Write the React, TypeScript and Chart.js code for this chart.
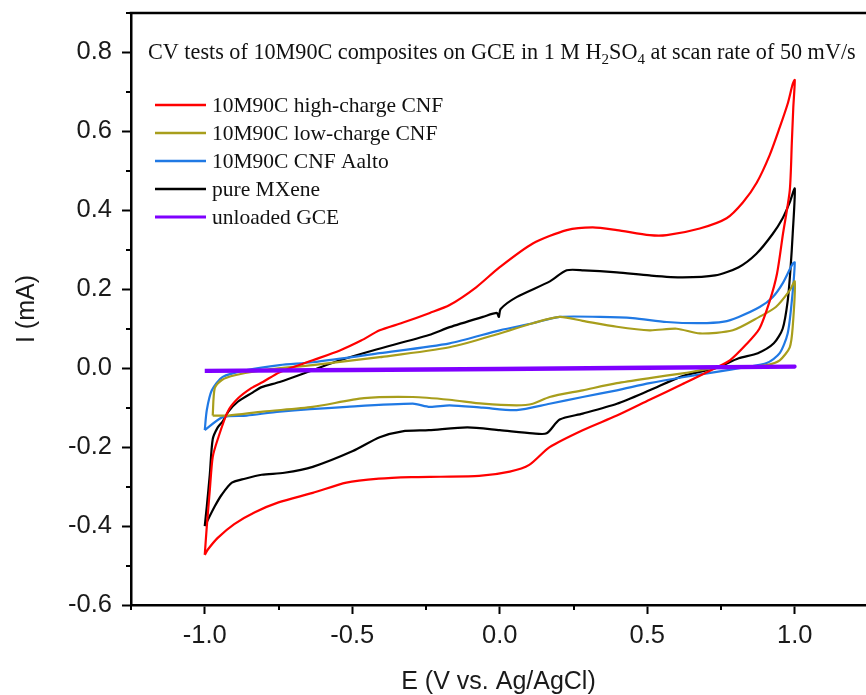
import { useEffect, useRef } from 'react';
import { Chart, registerables } from 'chart.js';

Chart.register(...registerables);

// Cyclic voltammograms: potential E (V vs. Ag/AgCl) and current I (mA),
// anodic sweep from -1.0 V to 1.0 V followed by the cathodic return sweep.
const highChargeE = [
  -1.0, -0.993, -0.983, -0.973, -0.956, -0.922, -0.888, -0.841, -0.803, -0.746, -0.634, -0.542,
  -0.47, -0.407, -0.33, -0.237, -0.17, -0.08, 0.0, 0.112, 0.227, 0.315, 0.397, 0.508, 0.566,
  0.678, 0.769, 0.824, 0.871, 0.915, 0.949, 0.976, 0.993, 1.0,
  0.995, 0.99, 0.983, 0.96, 0.94, 0.915, 0.88, 0.835, 0.78, 0.73, 0.62, 0.508, 0.397, 0.281,
  0.169, 0.1, 0.034, -0.07, -0.2, -0.3, -0.41, -0.52, -0.634, -0.75, -0.83, -0.9,
  -0.956, -0.99, -1.0,
];
const highChargeI = [
  -0.473, -0.4, -0.31, -0.225, -0.18, -0.11, -0.077, -0.05, -0.035, -0.01, 0.02, 0.045,
  0.07, 0.096, 0.115, 0.14, 0.16, 0.205, 0.256, 0.316, 0.35, 0.357, 0.35, 0.337, 0.337,
  0.354, 0.38, 0.42, 0.47, 0.54, 0.61, 0.67, 0.72, 0.73,
  0.66, 0.57, 0.45, 0.34, 0.24, 0.17, 0.1, 0.06, 0.02, 0.0, -0.04, -0.08, -0.12, -0.157,
  -0.2, -0.245, -0.262, -0.273, -0.275, -0.276, -0.28, -0.29, -0.316, -0.34, -0.365, -0.395,
  -0.43, -0.46, -0.473,
];

const lowChargeE = [
  -0.973, -0.966, -0.942, -0.898, -0.803, -0.634, -0.407, -0.17, 0.0, 0.112, 0.203, 0.281,
  0.397, 0.508, 0.6, 0.678, 0.79, 0.88, 0.936, 0.983, 1.0,
  0.993, 0.983, 0.949, 0.905, 0.83, 0.73, 0.62, 0.508, 0.397, 0.281, 0.169, 0.112, 0.057,
  -0.057, -0.17, -0.295, -0.46, -0.634, -0.803, -0.92, -0.973,
];
const lowChargeI = [
  -0.12, -0.05, -0.03, -0.018, -0.005, 0.008, 0.028, 0.053, 0.088, 0.114, 0.13, 0.12,
  0.105, 0.096, 0.1, 0.088, 0.096, 0.13, 0.155, 0.197, 0.22,
  0.104, 0.053, 0.02, 0.008, 0.003, 0.0, -0.013, -0.025, -0.038, -0.056, -0.073, -0.09, -0.094,
  -0.09, -0.08, -0.073, -0.076, -0.098, -0.11, -0.12, -0.12,
];

const aaltoE = [
  -1.0, -0.993, -0.976, -0.939, -0.858, -0.746, -0.634, -0.407, -0.17, 0.0, 0.112, 0.203,
  0.339, 0.451, 0.566, 0.678, 0.76, 0.81, 0.881, 0.925, 0.959, 0.993, 1.0,
  0.99, 0.976, 0.949, 0.905, 0.836, 0.73, 0.62, 0.508, 0.397, 0.281, 0.169, 0.057, -0.057,
  -0.17, -0.237, -0.295, -0.519, -0.746, -0.858, -0.939, -1.0,
];
const aaltoI = [
  -0.157, -0.106, -0.056, -0.022, -0.005, 0.008, 0.015, 0.038, 0.063, 0.096, 0.114, 0.13,
  0.13, 0.127, 0.117, 0.114, 0.118, 0.13, 0.155, 0.18, 0.215, 0.265, 0.268,
  0.17, 0.088, 0.038, 0.013, 0.003, -0.01, -0.023, -0.038, -0.056, -0.073, -0.09, -0.106, -0.1,
  -0.094, -0.098, -0.09, -0.098, -0.11, -0.12, -0.124, -0.157,
];

const mxeneE = [
  -1.0, -0.993, -0.983, -0.973, -0.956, -0.939, -0.92, -0.888, -0.841, -0.807, -0.746, -0.634,
  -0.542, -0.43, -0.24, -0.17, -0.057, -0.01, -0.003, 0.003, 0.057, 0.17, 0.227, 0.285, 0.397,
  0.508, 0.62, 0.73, 0.81, 0.87, 0.925, 0.959, 0.983, 1.0,
  0.993, 0.986, 0.976, 0.959, 0.929, 0.875, 0.81, 0.73, 0.62, 0.508, 0.397, 0.281, 0.203,
  0.159, 0.112, 0.0, -0.11, -0.24, -0.33, -0.407, -0.498, -0.634, -0.73, -0.807, -0.864,
  -0.908, -0.942, -0.966, -1.0,
];
const mxeneI = [
  -0.4, -0.35, -0.27, -0.18, -0.15, -0.135, -0.11, -0.085, -0.063, -0.048, -0.035, -0.005,
  0.02, 0.045, 0.084, 0.104, 0.13, 0.14, 0.13, 0.15, 0.18, 0.22, 0.248, 0.248, 0.243,
  0.235, 0.23, 0.235, 0.256, 0.29, 0.34, 0.38, 0.42, 0.455,
  0.34, 0.256, 0.17, 0.1, 0.063, 0.038, 0.025, 0.0, -0.02, -0.056, -0.09, -0.115, -0.13,
  -0.165, -0.165, -0.157, -0.15, -0.157, -0.16, -0.175, -0.21, -0.25, -0.265, -0.27, -0.28,
  -0.29, -0.32, -0.35, -0.4,
];

const bareGceE = [-1.0, 0.0, 1.0, 1.0, 0.0, -1.0];
const bareGceI = [-0.006, -0.001, 0.005, 0.003, -0.003, -0.008];

const seriesLabels = [
  '10M90C high-charge CNF',
  '10M90C low-charge CNF',
  '10M90C CNF Aalto',
  'pure MXene',
  'unloaded GCE',
];
const seriesColors = ['#ff0000', '#a89e1c', '#2079e4', '#000000', '#7f00ff'];
const seriesWidths = [2.2, 2.2, 2.2, 2.2, 3.5];

const xMajorTicks = [-1.0, -0.5, 0.0, 0.5, 1.0];
const yMajorTicks = [-0.6, -0.4, -0.2, 0.0, 0.2, 0.4, 0.6, 0.8];

const titleParts: { text: string; sub?: boolean }[] = [
  { text: 'CV tests of 10M90C composites on GCE in 1 M H' },
  { text: '2', sub: true },
  { text: 'SO' },
  { text: '4', sub: true },
  { text: ' at scan rate of 50 mV/s' },
];

const isMajor = (v: number, majors: number[]) => majors.some((m) => Math.abs(m - v) < 1e-6);

const toPoints = (xs: number[], ys: number[]) => xs.map((x, i) => ({ x, y: ys[i] }));

const seriesData = [
  toPoints(highChargeE, highChargeI),
  toPoints(lowChargeE, lowChargeI),
  toPoints(aaltoE, aaltoI),
  toPoints(mxeneE, mxeneI),
  toPoints(bareGceE, bareGceI),
];

const SERIF = '"Liberation Serif", "Times New Roman", serif';
const SANS = '"Liberation Sans", Arial, sans-serif';
const TITLE_FONT = `22.2px ${SERIF}`;
const SUB_FONT = `15px ${SERIF}`;
const LEGEND_FONT = `21.5px ${SERIF}`;

// Top frame line, short minor ticks, the in-plot title and the legend.
const framePlugin = {
  id: 'frameDecor',
  afterDraw(chart: any) {
    const { ctx, chartArea, scales } = chart;
    ctx.save();
    ctx.strokeStyle = '#000';
    ctx.lineWidth = 2.5;
    ctx.beginPath();
    ctx.moveTo(chartArea.left - 1.25, chartArea.top);
    ctx.lineTo(chartArea.right + 2, chartArea.top);
    ctx.stroke();

    ctx.lineWidth = 2;
    const xs = scales.x;
    xs.ticks.forEach((t: any) => {
      if (isMajor(t.value, xMajorTicks)) return;
      const px = Math.round(xs.getPixelForValue(t.value));
      ctx.beginPath();
      ctx.moveTo(px, chartArea.bottom);
      ctx.lineTo(px, chartArea.bottom + 5);
      ctx.stroke();
    });
    const ys = scales.y;
    ys.ticks.forEach((t: any) => {
      if (isMajor(t.value, yMajorTicks)) return;
      const py = Math.round(ys.getPixelForValue(t.value));
      ctx.beginPath();
      ctx.moveTo(chartArea.left, py);
      ctx.lineTo(chartArea.left - 5, py);
      ctx.stroke();
    });

    // title with subscripts
    ctx.fillStyle = '#111';
    ctx.textBaseline = 'alphabetic';
    let x = 148;
    const base = 59;
    titleParts.forEach((p) => {
      ctx.font = p.sub ? SUB_FONT : TITLE_FONT;
      ctx.fillText(p.text, x, p.sub ? base + 5 : base);
      x += ctx.measureText(p.text).width;
    });

    // legend
    chart.data.datasets.forEach((ds: any, i: number) => {
      const y = 105 + i * 28;
      ctx.strokeStyle = ds.borderColor;
      ctx.lineWidth = i === 4 ? 3 : 2.5;
      ctx.beginPath();
      ctx.moveTo(155, y);
      ctx.lineTo(206, y);
      ctx.stroke();
      ctx.font = LEGEND_FONT;
      ctx.fillStyle = '#111';
      ctx.textBaseline = 'middle';
      ctx.fillText(ds.label, 212, y + 1);
    });
    ctx.restore();
  },
};

export default function App() {
  const canvasRef = useRef<HTMLCanvasElement>(null);

  useEffect(() => {
    const canvas = canvasRef.current;
    if (!canvas) return;
    const chart = new Chart(canvas, {
      type: 'scatter',
      data: {
        datasets: seriesData.map((pts, i) => ({
          label: seriesLabels[i],
          data: pts,
          showLine: true,
          borderColor: seriesColors[i],
          backgroundColor: seriesColors[i],
          borderWidth: seriesWidths[i],
          pointRadius: 0,
          tension: 0.25,
          fill: false,
          order: i === 4 ? -1 : i,
        })),
      },
      options: {
        animation: false,
        responsive: false,
        devicePixelRatio: 1,
        events: [],
        layout: { padding: { top: 13, right: 0, bottom: 0, left: 0 } },
        plugins: {
          legend: { display: false },
          tooltip: { enabled: false },
          title: { display: false },
        },
        scales: {
          x: {
            type: 'linear',
            min: -1.25,
            max: 1.2415,
            afterFit: (scale: any) => {
              scale.height = 90;
              scale.paddingLeft = 0;
              scale.paddingRight = 0;
            },
            border: { display: true, color: '#000', width: 2.5 },
            grid: {
              drawOnChartArea: false,
              drawTicks: true,
              tickLength: 9,
              tickWidth: 2,
              tickColor: (ctx: any) =>
                ctx.tick && isMajor(ctx.tick.value, xMajorTicks) ? '#000' : 'rgba(0,0,0,0)',
            },
            ticks: {
              stepSize: 0.25,
              includeBounds: false,
              autoSkip: false,
              maxRotation: 0,
              padding: 7,
              color: '#1a1a1a',
              font: { family: SANS, size: 25.5 },
              callback: (v: any) => (isMajor(Number(v), xMajorTicks) ? Number(v).toFixed(1) : ''),
            },
            title: {
              display: true,
              text: 'E (V vs. Ag/AgCl)',
              color: '#1a1a1a',
              font: { family: SANS, size: 25, lineHeight: 1 },
              padding: { top: 0, bottom: 0 },
            },
          },
          y: {
            type: 'linear',
            min: -0.6,
            max: 0.9,
            afterFit: (scale: any) => {
              scale.width = 131;
              scale.paddingTop = 0;
              scale.paddingBottom = 0;
            },
            border: { display: true, color: '#000', width: 2.5 },
            grid: {
              drawOnChartArea: false,
              drawTicks: true,
              tickLength: 9,
              tickWidth: 2,
              tickColor: (ctx: any) =>
                ctx.tick && isMajor(ctx.tick.value, yMajorTicks) ? '#000' : 'rgba(0,0,0,0)',
            },
            ticks: {
              stepSize: 0.1,
              autoSkip: false,
              padding: 10,
              color: '#1a1a1a',
              font: { family: SANS, size: 25.5 },
              callback: (v: any) => (isMajor(Number(v), yMajorTicks) ? Number(v).toFixed(1) : ''),
            },
            title: {
              display: true,
              text: 'I (mA)',
              color: '#1a1a1a',
              font: { family: SANS, size: 25, lineHeight: 1 },
              padding: { top: 15, bottom: 0 },
            },
          },
        },
      },
      plugins: [framePlugin],
    });
    return () => chart.destroy();
  }, []);

  return (
    <div style={{ position: 'absolute', left: 0, top: 0, width: 866, height: 695, background: '#fff' }}>
      <canvas ref={canvasRef} width={866} height={695} style={{ display: 'block' }} />
    </div>
  );
}
